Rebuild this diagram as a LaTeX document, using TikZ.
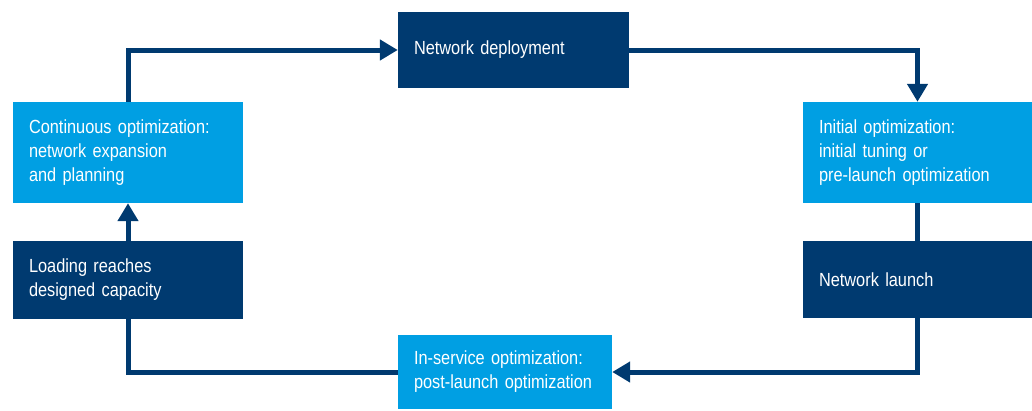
\documentclass[tikz,border=0pt]{standalone}
\usepackage{fontspec}
\setmainfont{Liberation Sans}[FakeStretch=0.86]
\usetikzlibrary{arrows.meta}
\definecolor{navy}{HTML}{003A70}
\definecolor{sky}{HTML}{009FE3}
\begin{document}
\begin{tikzpicture}[x=1pt,y=-1pt,
  box/.style={rectangle, inner xsep=16pt, inner ysep=0pt, align=left,
    text=white, font=\fontsize{19}{24}\selectfont, anchor=center},
  dark/.style={box, fill=navy},
  light/.style={box, fill=sky},
  link/.style={draw=navy, line width=5pt},
  flow/.style={link, -{Triangle[length=18pt,width=20pt]}}]
  \useasboundingbox (0,0) rectangle (1032,410);

  % process stages
  \node[dark, minimum width=231pt, minimum height=76pt, text width=199pt]
    (deploy) at (513.5,50) {Network deployment};
  \node[light, minimum width=230pt, minimum height=101pt, text width=198pt]
    (cont) at (128,152.5) {Continuous optimization:\\network expansion\\and planning};
  \node[dark, minimum width=230pt, minimum height=78pt, text width=198pt]
    (load) at (128,280) {Loading reaches\\designed capacity};
  \node[light, minimum width=229pt, minimum height=101pt, text width=197pt]
    (init) at (917.5,152.5) {Initial optimization:\\initial tuning or\\pre-launch optimization};
  \node[dark, minimum width=229pt, minimum height=77pt, text width=197pt]
    (launch) at (917.5,279.5) {Network launch};
  \node[light, minimum width=214pt, minimum height=74pt, text width=182pt]
    (inserv) at (505,372) {In-service optimization:\\post-launch optimization};

  % cycle connectors
  \draw[flow] (cont.north) |- (deploy.west);
  \draw[flow] (deploy.east) -| (init.north);
  \draw[link] (init.south) -- (launch.north);
  \draw[flow] (launch.south) |- (inserv.east);
  \draw[link] (inserv.west) -| (load.south);
  \draw[flow] (load.north) -- (cont.south);
\end{tikzpicture}
\end{document}
